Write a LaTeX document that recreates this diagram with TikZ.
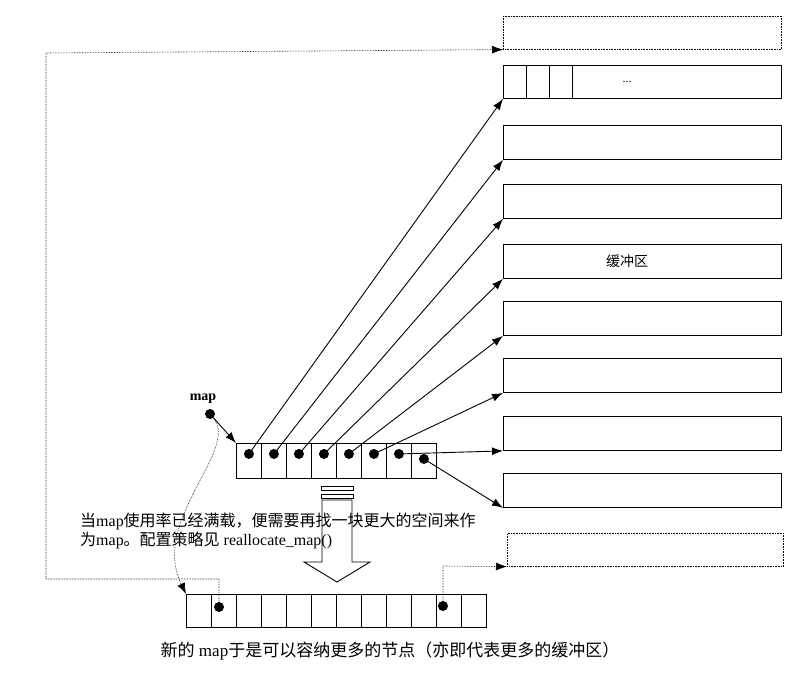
\documentclass[tikz,border=0pt]{standalone}
\usepackage{fontspec}
\setmainfont{Liberation Serif}
\newfontfamily\cjk{Noto Sans CJK SC}
\usetikzlibrary{arrows.meta,calc}
\begin{document}
\begin{tikzpicture}[x=1pt,y=-1pt,
  buf/.style={draw,line width=0.9pt},
  dbuf/.style={draw,densely dotted,line width=0.6pt},
  cell/.style={draw,line width=0.9pt,minimum width=25pt,minimum height=35pt,inner sep=0,anchor=north west},
  bcell/.style={draw,line width=0.9pt,minimum width=25pt,minimum height=33pt,inner sep=0,anchor=north west},
  ptr/.style={line width=0.9pt,-{Latex[length=11pt,width=8pt]}},
  dptr/.style={densely dotted,line width=0.6pt,-{Latex[length=11pt,width=8pt]}},
  dot/.style={circle,fill,inner sep=0,minimum size=10pt}]
\useasboundingbox (0,0) rectangle (798,674);
% buffers
\node[dbuf,minimum width=278pt,minimum height=33pt,anchor=north west,inner sep=0] (b1) at (503,16) {};
\node[buf,minimum width=278pt,minimum height=33pt,anchor=north west,inner sep=0] (b2) at (503,65) {};
\foreach \x in {526,549,572} \draw[line width=0.9pt] (\x,65) -- (\x,98);
\node[font=\fontsize{12pt}{14pt}\selectfont] at (627,82) {...};
\foreach \n/\y in {3/125,4/184,5/244,6/301,7/358,8/416,9/473}
  \node[buf,minimum width=278pt,minimum height=34pt,anchor=north west,inner sep=0] (b\n) at (503,\y) {};
\node[font=\cjk\fontsize{14pt}{16pt}\selectfont] at (627,261) {缓冲区};
\node[dbuf,minimum width=276pt,minimum height=33pt,anchor=north west,inner sep=0] (b10) at (507,533) {};
% map array
\foreach \i in {1,...,7} {
  \node[cell] (m\i) at ({236+25*(\i-1)},443) {};
  \node[dot] (md\i) at ($(m\i.center)+(0,-7)$) {};
}
\node[cell] (m8) at (411,443) {};
\node[dot] (md8) at ($(m8.center)+(0,-2)$) {};
\node[font=\bfseries\fontsize{14pt}{16pt}\selectfont] (maplbl) at (203,399) {map};
\node[dot] (mapdot) at (210,414) {};
\draw[ptr] (mapdot) -- (m1.north west);
\draw[ptr] (md1.center) -- (b2.south west);
\draw[ptr] (md2.center) -- (b3.south west);
\draw[ptr] (md3.center) -- (b4.south west);
\draw[ptr] (md4.center) -- (b5.south west);
\draw[ptr] (md5.center) -- (b6.south west);
\draw[ptr] (md6.center) -- (b7.south west);
\draw[ptr] (md7.center) -- (b8.south west);
\draw[ptr] (md8.center) -- (b9.south west);
% text
\node[anchor=west,font=\fontsize{16pt}{19pt}\selectfont,align=left,inner sep=0] (note) at (80,531)
 {{\cjk 当}map{\cjk 使用率已经满载，便需要再找一块更大的空间来作}\\{\cjk 为}map{\cjk 。配置策略见} reallocate\_map()};
% big arrow
\node[draw,line width=0.9pt,minimum width=32pt,minimum height=4pt,inner sep=0] (bar1) at (337,488) {};
\node[draw,line width=0.9pt,minimum width=32pt,minimum height=4pt,inner sep=0] (bar2) at (337,496) {};
\draw[line width=0.9pt] (322,500) -- (352,500) -- (352,562) -- (370,562) -- (337,582) -- (304,562) -- (322,562) -- cycle;
% bottom array
\foreach \i in {1,...,12} \node[bcell] (n\i) at ({186+25*(\i-1)},594) {};
\node[dot] (nd2) at (219,607) {};
\node[dot] (nd11) at (443,606) {};
\coordinate (c1) at (219,579);
\coordinate (c2) at (46,579);
\coordinate (c3) at (46,53);
\draw[dptr] (nd2.center) -- (c1) -- (c2) -- (c3) -- (b1.south west);
\coordinate (c4) at (443,566);
\draw[dptr] (nd11.center) -- (c4) -- (b10.south west);
\draw[dptr] (mapdot) .. controls (240,450) and (150,520) .. (n1.north west);
\node[font=\fontsize{17pt}{19pt}\selectfont] (cap) at (390,651) {{\cjk 新的} map{\cjk 于是可以容纳更多的节点（亦即代表更多的缓冲区）}};
\end{tikzpicture}
\end{document}
